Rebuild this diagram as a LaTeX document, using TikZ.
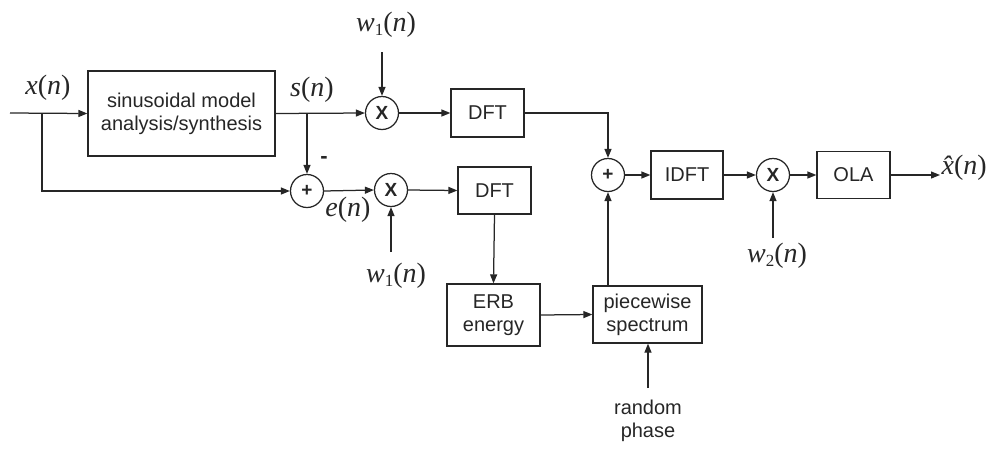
\documentclass[tikz,border=0pt]{standalone}
\usepackage{fontspec}
\setmainfont{Liberation Sans}
\newfontfamily\tnr{Liberation Serif}
\usetikzlibrary{arrows.meta}
\newcommand{\mvar}[1]{{\tnr\itshape #1}}
\newcommand{\lab}[1]{{\tnr\fontsize{28}{30}\selectfont #1}}
\newcommand{\wsub}[1]{\mvar{w}\raisebox{-0.3ex}{\fontsize{17}{17}\selectfont #1}(\mvar{n})}
\begin{document}
\begin{tikzpicture}[x=1pt,y=-1pt,
  line width=1.25pt, color=black!85,
  >={Triangle[length=9pt,width=7pt]},
  blk/.style={draw, rectangle, inner sep=0pt, align=center,
    font=\fontsize{20}{23}\selectfont},
  op/.style={draw, circle, inner sep=0pt, minimum size=33pt,
    font=\fontsize{19}{20}\selectfont\bfseries},
  lbl/.style={inner sep=0pt},
  txt/.style={inner sep=0pt, align=center, font=\fontsize{20}{23}\selectfont}]
\useasboundingbox (0,0) rectangle (999,448);

% blocks
\node[blk, minimum width=187pt, minimum height=85pt] (sin) at (181.5,113.5) {sinusoidal model\\analysis/synthesis};
\node[op] (mul1) at (382,113) {X};
\node[blk, minimum width=73pt, minimum height=48pt] (dft1) at (487.5,113) {DFT};
\node[op] (sum1) at (307,191) {+};
\node[op] (mul2) at (391,190) {X};
\node[blk, minimum width=73pt, minimum height=47pt] (dft2) at (494.5,190.5) {DFT};
\node[blk, minimum width=93pt, minimum height=62pt] (erb) at (493.5,315) {ERB\\energy};
\node[blk, minimum width=109pt, minimum height=57pt] (pws) at (647.5,314.5) {piecewise\\spectrum};
\node[op] (sum2) at (608,175) {+};
\node[blk, minimum width=72pt, minimum height=48pt] (idft) at (687,175) {IDFT};
\node[op] (mul3) at (773,175) {X};
\node[blk, minimum width=73pt, minimum height=47pt] (ola) at (853.5,175) {OLA};

% labels
\node[lbl] (xn) at (48,88) {\lab{\mvar{x}(\mvar{n})}};
\node[lbl] (sn) at (312,90) {\lab{\mvar{s}(\mvar{n})}};
\node[lbl] (w1a) at (386,25) {\lab{\wsub{1}}};
\node[lbl] (w1b) at (396,276) {\lab{\wsub{1}}};
\node[lbl] (w2) at (777,256) {\lab{\wsub{2}}};
\node[lbl] (en) at (348,210) {\lab{\mvar{e}(\mvar{n})}};
\node[lbl, anchor=west] (xh) at (941,168) {\lab{\mvar{x̂}(\mvar{n})}};
\node[lbl, font=\fontsize{22}{22}\selectfont\bfseries] (minus) at (324,160) {-};
\node[txt] (rp) at (648,421) {random\\phase};

% coordinates
\coordinate (in) at (10,113);
\coordinate (j1) at (42,113);
\coordinate (j1d) at (42,191);
\coordinate (j2) at (307,113);
\coordinate (w1as) at (382,52);
\coordinate (w1bs) at (391,252);
\coordinate (w2s) at (773,238);
\coordinate (rps) at (648,388);
\coordinate (c1) at (608,113);
\coordinate (out) at (940,175);

% connectors
\draw[->] (in) -- (sin.west);
\draw[->] (j1) -- (j1d) -- (sum1.west);
\draw[->] (sin.east) -- (mul1.west);
\draw[->] (j2) -- (sum1.north);
\draw[->] (w1as) -- (mul1.north);
\draw[->] (mul1.east) -- (dft1.west);
\draw[->] (dft1.east) -- (c1) -- (sum2.north);
\draw[->] (sum1.east) -- (mul2.west);
\draw[->] (w1bs) -- (mul2.south);
\draw[->] (mul2.east) -- (dft2.west);
\draw[->] (dft2.south) -- (erb.north);
\draw[->] (erb.east) -- (pws.west);
\draw[->] (rps) -- (rps |- pws.south);
\draw[->] (sum2.south |- pws.north) -- (sum2.south);
\draw[->] (sum2.east) -- (idft.west);
\draw[->] (idft.east) -- (mul3.west);
\draw[->] (w2s) -- (mul3.south);
\draw[->] (mul3.east) -- (ola.west);
\draw[->] (ola.east) -- (out);
\end{tikzpicture}
\end{document}
